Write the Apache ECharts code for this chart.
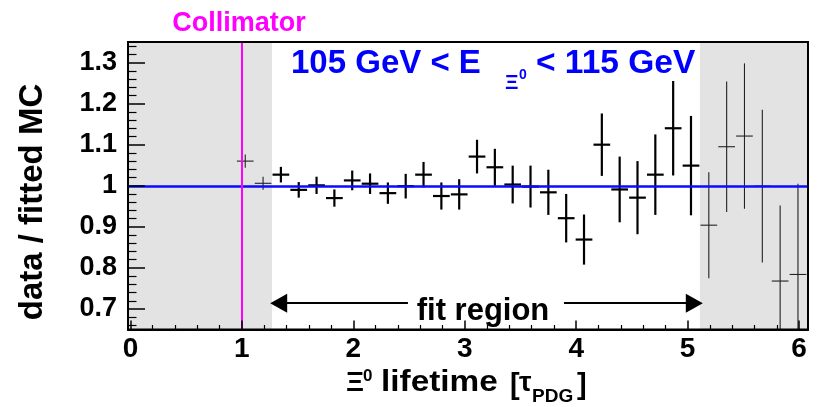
<!DOCTYPE html>
<html><head><meta charset="utf-8">
<script src="https://cdn.jsdelivr.net/npm/echarts@6/dist/echarts.min.js"></script>
<style>html,body{margin:0;padding:0;background:#fff}#c{width:821px;height:407px}</style>
</head><body><div id="c"></div>
<script>
// ---- data ----
const binCenters = [1.03,1.19,1.35,1.51,1.67,1.83,1.99,2.15,2.31,2.47,2.63,2.79,2.95,3.11,3.27,3.43,3.59,3.75,3.91,4.07,4.23,4.39,4.55,4.71,4.87,5.03,5.19,5.35,5.51,5.67,5.83,5.99];
const ratioValues = [1.060,1.006,1.027,0.990,1.001,0.970,1.013,1.005,0.982,0.999,1.027,0.975,0.979,1.071,1.045,1.003,0.998,0.984,0.921,0.869,1.100,0.991,0.971,1.027,1.140,1.049,0.904,1.095,1.121,0.999,0.768,0.784];
const ratioErrors = [0.016,0.016,0.019,0.019,0.021,0.021,0.024,0.025,0.026,0.030,0.031,0.033,0.037,0.041,0.045,0.046,0.051,0.055,0.059,0.061,0.076,0.080,0.089,0.098,0.115,0.121,0.129,0.159,0.177,0.186,0.184,0.221];
const binHalfWidth = 0.075;
const fitRatio = 1.0;
const collimatorPos = 1.0;
const fitRange = [1.27, 5.11];
const xRange = [-0.022, 6.08];
const yRange = [0.65, 1.35];
const xMajorTicks = [0,1,2,3,4,5,6];
const xMinorTicks = [0.2,0.4,0.6,0.8,1.2,1.4,1.6,1.8,2.2,2.4,2.6,2.8,3.2,3.4,3.6,3.8,4.2,4.4,4.6,4.8,5.2,5.4,5.6,5.8];
const yMajorTicks = [0.7,0.8,0.9,1.0,1.1,1.2,1.3];
const yMinorTicks = [0.66,0.68,0.72,0.74,0.76,0.78,0.82,0.84,0.86,0.88,0.92,0.94,0.96,0.98,1.02,1.04,1.06,1.08,1.12,1.14,1.16,1.18,1.22,1.24,1.26,1.28,1.32,1.34];
const arrowLevel = 0.714;
const arrowLeft = [2.49, 1.33];
const arrowRight = [3.89, 5.06];

// ---- chart ----
const FONT = '"Liberation Sans", Arial, Helvetica, sans-serif';
const GRID = {left: 128, top: 42, width: 680, height: 287.5};
const chart = echarts.init(document.getElementById('c'), null, {renderer: 'canvas'});

function renderItem(params, api) {
  const x = api.value(0), y = api.value(1), e = api.value(2);
  const cs = params.coordSys;
  const clampY = v => Math.max(cs.y, Math.min(cs.y + cs.height, v));
  const c = api.coord([x, y]);
  const lo = api.coord([x, y - e]);
  const hi = api.coord([x, y + e]);
  const l = api.coord([x - binHalfWidth, y]);
  const r = api.coord([x + binHalfWidth, y]);
  const inFit = x > fitRange[0] && x < fitRange[1];
  const style = {stroke: inFit ? '#000' : '#222', lineWidth: inFit ? 2.2 : 1.1};
  return {type: 'group', children: [
    {type: 'line', shape: {x1: c[0], y1: clampY(hi[1]), x2: c[0], y2: clampY(lo[1])}, style},
    {type: 'line', shape: {x1: l[0], y1: c[1], x2: r[0], y2: c[1]}, style}
  ]};
}

function txt(text, x, baseline, size, color, align, extra) {
  return Object.assign({
    type: 'text', x: x, y: baseline - 0.3465 * size, silent: true, z: 20,
    style: {text: text, font: 'bold ' + size + 'px ' + FONT, fill: color || '#000',
      align: align || 'left', verticalAlign: 'middle'}
  }, extra || {});
}

const axisLineStyle = {color: '#000', width: 2};
const baseX = {type: 'value', min: xRange[0], max: xRange[1], splitLine: {show: false}, z: 10};
const baseY = {type: 'value', min: yRange[0], max: yRange[1], splitLine: {show: false}, z: 10};

const option = {
  animation: false,
  backgroundColor: '#fff',
  grid: Object.assign({containLabel: false}, GRID),
  xAxis: [
    Object.assign({}, baseX, {position: 'bottom',
      axisLine: {show: true, onZero: false, lineStyle: axisLineStyle},
      axisTick: {show: true, inside: true, length: 9, customValues: xMajorTicks, lineStyle: {color: '#000', width: 1.5}},
      axisLabel: {show: true, customValues: xMajorTicks, fontSize: 28, fontWeight: 'bold', fontFamily: FONT, color: '#000', margin: 6}}),
    Object.assign({}, baseX, {position: 'bottom',
      axisLine: {show: false, onZero: false},
      axisTick: {show: true, inside: true, length: 4.5, customValues: xMinorTicks, lineStyle: {color: '#000', width: 1.2}},
      axisLabel: {show: false}}),
    Object.assign({}, baseX, {position: 'top',
      axisLine: {show: true, onZero: false, lineStyle: axisLineStyle},
      axisTick: {show: false}, axisLabel: {show: false}})
  ],
  yAxis: [
    Object.assign({}, baseY, {position: 'left',
      axisLine: {show: true, onZero: false, lineStyle: axisLineStyle},
      axisTick: {show: true, inside: true, length: 17, customValues: yMajorTicks, lineStyle: {color: '#000', width: 1.5}},
      axisLabel: {show: true, customValues: yMajorTicks, fontSize: 27, fontWeight: 'bold', fontFamily: FONT, color: '#000', margin: 11}}),
    Object.assign({}, baseY, {position: 'left',
      axisLine: {show: false, onZero: false},
      axisTick: {show: true, inside: true, length: 8.5, customValues: yMinorTicks, lineStyle: {color: '#000', width: 1.2}},
      axisLabel: {show: false}}),
    Object.assign({}, baseY, {position: 'right',
      axisLine: {show: true, onZero: false, lineStyle: axisLineStyle},
      axisTick: {show: false}, axisLabel: {show: false}})
  ],
  series: [
    {type: 'line', data: [], z: 1, silent: true,
     markArea: {silent: true, itemStyle: {color: '#e3e3e3'},
       data: [[{xAxis: xRange[0]}, {xAxis: fitRange[0]}], [{xAxis: fitRange[1]}, {xAxis: xRange[1]}]]}},
    {type: 'line', data: [], z: 2, silent: true,
     markLine: {silent: true, symbol: 'none', label: {show: false},
       lineStyle: {color: '#0a0aff', width: 2.5, type: 'solid'}, data: [{yAxis: fitRatio}]}},
    {type: 'custom', z: 3, silent: true, renderItem: renderItem,
     data: binCenters.map((x, i) => [x, ratioValues[i], ratioErrors[i]])},
    {type: 'line', data: [], z: 4, silent: true,
     markLine: {silent: true, symbol: 'none', label: {show: false},
       lineStyle: {color: '#ff00ff', width: 2, type: 'solid'}, data: [{xAxis: collimatorPos}]}},
    {type: 'line', data: [], z: 5, silent: true,
     markLine: {silent: true, symbol: ['none', 'triangle'], symbolSize: [19, 17], label: {show: false},
       lineStyle: {color: '#000', width: 2, type: 'solid'}, itemStyle: {color: '#000'},
       data: [
         [{coord: [arrowLeft[0], arrowLevel]}, {coord: [arrowLeft[1], arrowLevel]}],
         [{coord: [arrowRight[0], arrowLevel]}, {coord: [arrowRight[1], arrowLevel]}]
       ]}}
  ],
  graphic: [
    {type: 'rect', silent: true, z: 15,
     shape: {x: GRID.left, y: GRID.top, width: GRID.width, height: GRID.height},
     style: {fill: null, stroke: '#000', lineWidth: 2}},
    txt('Collimator', 239, 32.5, 27, '#ff00ff', 'center'),
    txt('105 GeV < E', 291, 75, 33, '#0000ff'),
    txt('\u039E', 505, 90, 21, '#0000ff'),
    txt('0', 519, 80, 14, '#0000ff'),
    txt('< 115 GeV', 536, 75, 33.5, '#0000ff'),
    txt('fit region', 483, 321.7, 31, '#000', 'center'),
    // x-axis title
    txt('\u039E', 346, 393, 28, '#000'),
    txt('0', 363, 382, 17, '#000'),
    txt('lifetime', 381, 393, 29, '#000', 'left', {scaleX: 1.15}),
    txt('[', 510, 396, 29, '#000'),
    txt('\u03C4', 519, 393, 28, '#000'),
    txt('PDG', 532, 403, 19, '#000'),
    txt(']', 577, 396, 29, '#000'),
    // y-axis title
    {type: 'text', x: 32.5, y: 202, rotation: Math.PI / 2, silent: true, z: 20,
     style: {text: 'data / fitted MC', font: 'bold 33px ' + FONT, fill: '#000', align: 'center', verticalAlign: 'middle'}}
  ]
};
chart.setOption(option);
</script>
</body></html>
